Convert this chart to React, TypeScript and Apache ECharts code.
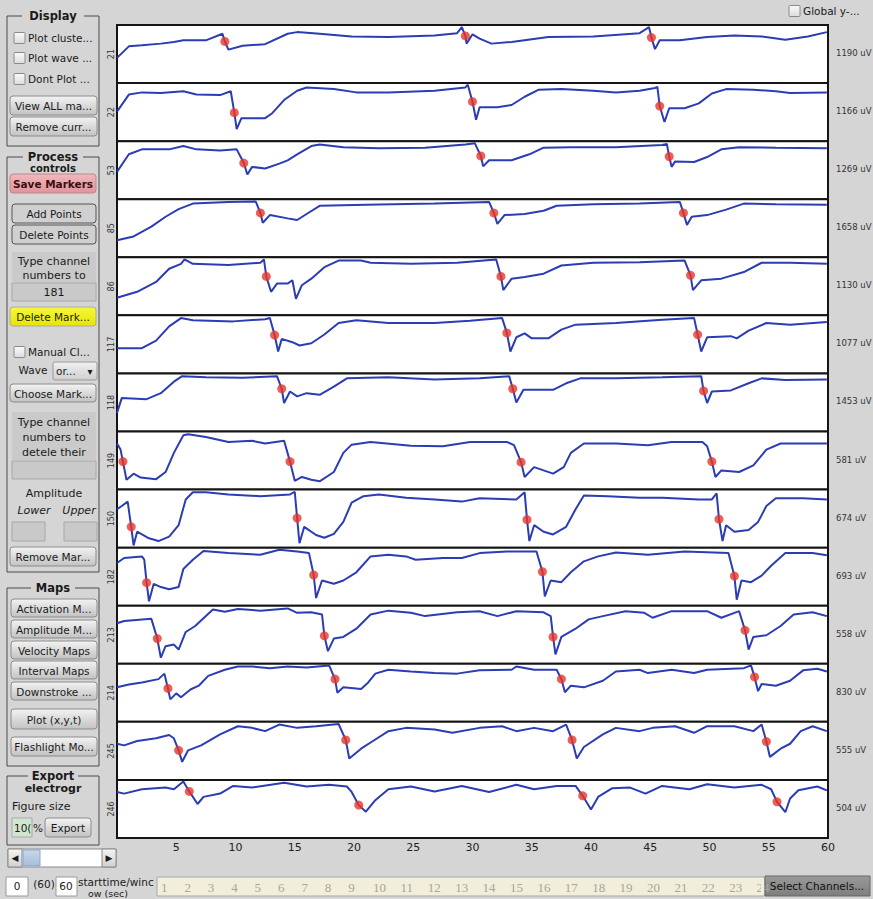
import React, { useEffect, useRef } from "react";
import * as echarts from "echarts";

// ---------- data ----------
const channels = ["21", "22", "53", "85", "86", "117", "118", "149", "150", "182", "213", "214", "245", "246"];
const amplitudes = ["1190 uV", "1166 uV", "1269 uV", "1658 uV", "1130 uV", "1077 uV", "1453 uV", "581 uV", "674 uV", "693 uV", "558 uV", "830 uV", "555 uV", "504 uV"];
const timeTicks = [5, 10, 15, 20, 25, 30, 35, 40, 45, 50, 55, 60];

const trace21 = [[0.0,43],[1.0,64],[2.1,66],[3.7,69],[4.8,72],[5.6,75],[7.5,75],[8.9,87],[9.1,73],[9.4,58],[10.6,65],[12.5,68],[14.4,87],[15.2,90],[17.1,87],[19.8,82],[22.9,81],[26.8,84],[28.7,88],[29.1,99],[29.4,83],[29.5,69],[30.0,86],[30.6,78],[31.6,69],[33.3,72],[36.4,81],[40.2,82],[44.1,88],[44.9,99],[45.1,80],[45.4,59],[45.8,75],[47.5,75],[49.8,81],[52.1,84],[54.4,82],[56.4,76],[58.3,82],[59.9,90]];
const markers21 = [[9.1,73],[29.4,83],[45.1,80]];

const trace22 = [[0.0,51],[1.0,82],[2.1,86],[3.7,85],[5.6,88],[6.7,82],[8.7,81],[9.6,88],[9.9,49],[10.1,19],[10.5,39],[12.5,39],[13.1,48],[14.1,72],[15.2,89],[16.0,95],[18.3,92],[20.2,86],[22.9,86],[26.8,89],[29.4,95],[29.6,100],[30.0,69],[30.3,36],[30.6,59],[32.1,59],[33.3,63],[34.4,78],[35.6,91],[37.5,92],[40.2,89],[42.1,86],[44.1,89],[45.4,94],[45.6,96],[45.8,61],[46.2,32],[46.6,57],[47.9,57],[49.1,66],[50.2,84],[51.4,92],[53.7,91],[55.6,88],[56.8,85],[59.9,86]];
const markers22 = [[9.9,49],[30.0,69],[45.8,61]];

const trace53 = [[0.0,47],[1.0,79],[2.1,88],[4.4,88],[5.6,94],[6.7,88],[8.7,86],[10.1,88],[10.7,63],[11.0,42],[11.4,56],[12.5,53],[13.7,62],[14.4,68],[15.2,79],[16.4,94],[17.1,97],[19.1,92],[22.1,90],[26.0,91],[29.4,97],[30.2,99],[30.7,76],[30.9,57],[31.4,68],[33.3,68],[34.8,79],[36.0,91],[38.3,92],[42.1,92],[46.0,96],[46.4,98],[46.6,75],[46.8,56],[47.1,66],[48.7,65],[49.8,74],[51.0,88],[52.5,92],[55.6,91],[59.9,90]];
const markers53 = [[10.7,63],[30.7,76],[46.6,75]];

const trace85 = [[0.0,28],[1.4,35],[2.9,53],[4.1,71],[5.2,85],[6.4,95],[9.4,98],[11.7,99],[12.1,78],[12.3,60],[12.9,74],[14.4,68],[15.2,65],[16.0,76],[17.1,91],[21.0,93],[26.8,95],[31.4,98],[31.8,78],[32.1,58],[32.7,74],[34.4,76],[36.0,82],[37.1,91],[40.2,94],[44.1,95],[47.5,98],[47.8,78],[48.1,56],[48.5,71],[49.8,74],[51.4,84],[52.9,95],[55.6,94],[59.9,93]];
const markers85 = [[12.1,78],[31.8,78],[47.8,78]];

const trace86 = [[0.0,29],[1.7,40],[3.3,58],[4.4,82],[5.4,91],[5.7,99],[6.4,91],[9.4,89],[12.1,93],[12.4,99],[12.6,68],[13.0,40],[13.5,55],[14.4,55],[14.8,61],[15.1,27],[15.6,52],[16.4,64],[17.5,85],[18.7,97],[20.6,97],[21.4,93],[24.8,91],[28.7,93],[32.0,99],[32.4,68],[32.6,43],[33.3,64],[34.4,67],[36.0,73],[37.5,88],[40.2,93],[44.1,94],[47.9,97],[48.4,70],[48.6,43],[49.3,61],[51.0,64],[52.9,76],[54.4,93],[56.8,93],[59.9,91]];
const markers86 = [[12.6,68],[32.4,68],[48.4,70]];

const trace117 = [[0.0,43],[2.1,43],[3.3,57],[4.4,83],[5.4,98],[6.4,94],[9.8,92],[12.5,96],[12.9,98],[13.3,67],[13.6,37],[13.9,60],[14.8,54],[15.4,48],[16.4,52],[17.5,68],[18.7,89],[20.2,94],[22.9,89],[26.8,89],[29.8,93],[32.5,98],[32.9,71],[33.2,37],[33.7,63],[34.4,70],[35.0,61],[36.4,61],[37.5,77],[38.7,86],[42.1,89],[46.0,95],[48.7,98],[49.0,68],[49.3,37],[49.8,63],[51.8,65],[52.3,61],[53.3,75],[54.8,89],[56.8,86],[59.9,91]];
const markers117 = [[13.3,67],[32.9,71],[49.0,68]];

const trace118 = [[0.0,31],[0.4,58],[2.5,56],[3.7,67],[4.8,88],[5.5,98],[7.5,96],[10.6,95],[13.5,98],[13.9,75],[14.1,49],[14.6,70],[15.2,61],[16.0,67],[17.1,64],[18.3,79],[19.4,94],[22.9,96],[26.8,92],[30.6,94],[33.1,98],[33.4,75],[33.7,50],[34.3,73],[36.8,73],[37.9,85],[39.1,94],[42.1,94],[46.0,96],[49.3,98],[49.5,71],[49.8,49],[50.2,70],[51.8,72],[53.3,85],[54.4,94],[56.4,91],[59.9,92]];
const markers118 = [[13.9,75],[33.4,75],[49.5,71]];

const trace149 = [[0.0,81],[0.3,70],[0.5,48],[0.8,15],[1.4,26],[2.0,19],[3.3,16],[4.1,29],[4.8,64],[5.6,96],[6.0,98],[7.5,93],[9.4,84],[11.4,86],[12.5,81],[14.1,86],[14.6,48],[15.0,13],[15.6,20],[16.4,15],[17.1,12],[18.3,29],[19.1,64],[19.8,79],[21.4,84],[24.8,77],[27.5,76],[29.8,84],[32.9,84],[33.5,78],[34.1,47],[34.4,20],[35.2,38],[36.8,26],[37.7,38],[38.3,64],[39.4,81],[42.1,81],[44.8,78],[46.8,84],[49.4,84],[49.8,76],[50.2,48],[50.5,20],[51.0,32],[52.5,29],[53.7,41],[54.8,70],[56.0,81],[59.9,81]];
const markers149 = [[0.5,48],[14.6,48],[34.1,47],[50.2,48]];

const trace150 = [[0.0,67],[0.4,73],[0.9,81],[1.2,35],[1.4,1],[1.7,26],[2.7,14],[3.5,9],[4.4,17],[5.2,38],[5.8,85],[6.4,98],[7.5,98],[9.4,94],[12.1,91],[14.6,94],[15.0,99],[15.2,51],[15.4,5],[15.8,35],[16.8,20],[17.5,15],[18.3,22],[19.1,44],[19.8,79],[20.8,91],[22.1,94],[24.4,88],[26.8,85],[29.1,81],[30.6,87],[33.7,85],[34.4,98],[34.6,48],[34.8,9],[35.2,38],[36.0,26],[36.8,21],[37.9,35],[38.7,67],[39.4,92],[41.4,91],[44.1,88],[46.0,88],[49.1,85],[50.2,85],[50.6,96],[50.8,49],[51.1,9],[51.4,38],[52.1,26],[53.3,29],[54.1,44],[54.8,73],[55.6,87],[57.9,87],[59.9,85]];
const markers150 = [[1.2,35],[15.2,51],[34.6,48],[50.8,49]];

const trace182 = [[0.0,75],[0.6,84],[2.1,87],[2.3,81],[2.5,39],[2.7,5],[3.1,37],[3.7,31],[4.4,27],[5.2,31],[5.6,64],[6.4,81],[7.3,97],[9.4,93],[12.1,90],[13.7,99],[15.2,96],[16.2,93],[16.6,53],[16.8,11],[17.3,43],[18.3,37],[19.1,43],[20.2,58],[21.4,87],[22.9,90],[24.4,87],[25.2,81],[27.5,84],[29.1,84],[30.6,93],[32.9,96],[35.4,96],[35.9,59],[36.1,14],[36.6,43],[37.5,40],[38.3,58],[39.4,78],[40.6,87],[42.1,94],[44.8,90],[47.9,96],[51.6,93],[52.1,51],[52.3,8],[52.7,43],[53.5,40],[54.4,52],[55.2,70],[56.4,93],[58.7,93],[59.9,89]];
const markers182 = [[2.5,39],[16.6,53],[35.9,59],[52.1,51]];

const trace213 = [[0.0,71],[0.6,75],[2.9,79],[3.4,43],[3.7,8],[4.1,29],[4.8,32],[5.2,23],[5.8,55],[6.6,66],[7.5,84],[8.1,96],[9.1,92],[10.2,97],[12.1,94],[14.4,98],[15.2,90],[16.4,91],[17.3,87],[17.5,48],[17.8,20],[18.3,43],[19.1,46],[20.2,61],[21.4,87],[22.9,94],[24.8,90],[26.0,84],[28.7,91],[30.6,93],[32.1,84],[33.7,93],[36.0,91],[36.6,84],[36.8,46],[37.0,14],[37.5,46],[38.7,61],[39.8,78],[41.0,84],[42.9,93],[44.5,90],[45.2,81],[46.8,93],[49.8,93],[51.0,81],[52.5,93],[53.0,58],[53.3,23],[53.7,46],[54.8,49],[56.0,66],[57.1,87],[58.7,91],[59.9,84]];
const markers213 = [[3.4,43],[17.5,48],[36.8,46],[53.0,58]];

const trace214 = [[0.0,60],[1.0,65],[2.1,69],[3.5,75],[4.0,85],[4.3,58],[4.5,38],[5.0,49],[5.4,42],[6.2,56],[6.9,63],[7.7,81],[9.1,92],[10.2,98],[11.4,98],[12.9,95],[14.4,98],[16.0,96],[17.9,100],[18.4,75],[18.6,50],[19.1,60],[20.6,57],[21.2,69],[21.8,85],[22.9,92],[24.8,89],[26.8,86],[28.7,85],[30.6,91],[33.3,92],[33.7,98],[35.2,92],[37.1,92],[37.5,75],[37.8,51],[38.3,63],[39.4,60],[41.0,72],[42.1,89],[44.1,92],[44.8,86],[46.8,92],[48.7,86],[49.8,92],[52.9,95],[53.5,100],[53.8,79],[54.1,53],[54.4,66],[55.6,63],[56.8,72],[57.9,91],[59.1,94],[59.9,89]];
const markers214 = [[4.3,58],[18.4,75],[37.5,75],[53.8,79]];

const trace245 = [[0.0,63],[0.6,60],[1.7,68],[3.3,73],[4.4,79],[4.8,73],[5.2,51],[5.5,30],[6.0,51],[7.1,60],[8.7,80],[10.2,95],[11.4,92],[12.5,86],[13.7,98],[15.2,92],[16.8,95],[18.7,99],[19.3,70],[19.6,36],[20.6,54],[21.6,68],[22.9,86],[24.4,92],[26.8,89],[28.3,83],[30.6,92],[32.5,95],[33.7,86],[35.2,92],[36.8,86],[37.9,98],[38.4,70],[38.8,36],[39.4,57],[41.0,80],[42.1,92],[44.1,86],[45.2,92],[47.1,95],[48.7,83],[49.8,95],[52.1,95],[53.7,86],[54.4,98],[54.8,67],[55.1,39],[56.0,54],[56.8,63],[57.7,86],[58.7,95],[59.9,86]];
const markers245 = [[5.2,51],[19.3,70],[38.4,70],[54.8,67]];

const trace246 = [[0.0,81],[0.6,78],[2.1,86],[4.1,89],[4.8,86],[5.6,100],[6.1,82],[6.8,59],[7.3,72],[8.7,78],[9.8,92],[11.4,89],[14.1,98],[16.0,91],[17.9,94],[19.4,91],[19.8,81],[20.4,57],[21.0,45],[21.8,66],[22.9,86],[24.8,91],[26.8,82],[29.1,92],[31.4,81],[33.7,94],[35.2,86],[37.1,92],[38.7,92],[39.3,74],[40.0,49],[40.6,72],[41.8,88],[43.3,89],[44.6,78],[46.0,92],[48.3,86],[49.8,95],[52.1,89],[54.4,94],[55.2,86],[55.7,63],[56.4,44],[56.8,69],[57.5,84],[59.1,91],[59.9,84]];
const markers246 = [[6.1,82],[20.4,57],[39.3,74],[55.7,63]];

const traces = [trace21, trace22, trace53, trace85, trace86, trace117, trace118, trace149, trace150, trace182, trace213, trace214, trace245, trace246];
const markers = [markers21, markers22, markers53, markers85, markers86, markers117, markers118, markers149, markers150, markers182, markers213, markers214, markers245, markers246];

const pageNumbers = Array.from({ length: 24 }, (_, i) => String(i + 1));

// ---------- layout ----------
const W = 873;
const H = 899;
const X0 = 117;
const PW = 711;
const TOP0 = 25;
const PH = 58.07;
const BG = "#d5d5d5";
const FONT = '"DejaVu Sans", sans-serif';

function txt(x: number, y: number, text: string, o: any = {}) {
  const size = o.size ?? 10.5;
  const weight = o.weight ?? "normal";
  const fstyle = o.style ?? "normal";
  return {
    type: "text",
    x,
    y,
    silent: true,
    z: o.z ?? 10,
    style: {
      text,
      fill: o.color ?? "#1a1a1a",
      font: `${fstyle} ${weight} ${size}px ${o.family ?? FONT}`,
      textAlign: o.align ?? "center",
      textVerticalAlign: "middle",
    },
  };
}

function rect(x1: number, y1: number, x2: number, y2: number, fill: any, stroke: string | null, r = 0, lw = 1, z = 5) {
  return {
    type: "rect",
    silent: true,
    z,
    shape: { x: x1, y: y1, width: x2 - x1, height: y2 - y1, r },
    style: { fill, stroke: stroke ?? "none", lineWidth: lw },
  };
}

function grad(top: string, bottom: string) {
  return new echarts.graphic.LinearGradient(0, 0, 0, 1, [
    { offset: 0, color: top },
    { offset: 1, color: bottom },
  ]);
}

function btn(x1: number, y1: number, x2: number, y2: number, label: string, o: any = {}) {
  return [
    rect(x1, y1, x2, y2, o.fill ?? grad("#f3f3f3", "#c2c2c2"), o.stroke ?? "#8c8c8c", 3, 1, 6),
    txt((x1 + x2) / 2, (y1 + y2) / 2 + 0.5, label, { weight: o.weight, color: o.color, size: o.size, z: 7 }),
  ];
}

function groupBox(x1: number, y1: number, x2: number, y2: number, title: string, tw: number) {
  const cx = (x1 + x2) / 2;
  return [
    rect(x1, y1, x2, y2, "none", "#4a4a4a", 0, 1, 3),
    rect(cx - tw / 2, y1 - 6, cx + tw / 2, y1 + 6, BG, null, 0, 1, 4),
    txt(cx, y1, title, { weight: "bold", size: 11.5, z: 6 }),
  ];
}

function checkbox(x: number, y: number, label: string) {
  return [
    rect(x, y - 5.5, x + 11, y + 5.5, grad("#fafafa", "#dcdcdc"), "#8a8a8a", 1, 1, 6),
    txt(x + 14, y, label, { align: "left", z: 7 }),
  ];
}

function inputBox(x1: number, y1: number, x2: number, y2: number, fill = "#c9c9c9") {
  return rect(x1, y1, x2, y2, fill, "#a8a8a8", 0, 1, 6);
}

function buildGraphic() {
  const g: any[] = [];
  // Display group
  g.push(...groupBox(7, 16, 99, 146, "Display", 62));
  g.push(...checkbox(14, 38, "Plot cluste..."));
  g.push(...checkbox(14, 58, "Plot wave ..."));
  g.push(...checkbox(14, 79, "Dont Plot ..."));
  g.push(...btn(10, 96, 97, 115, "View ALL ma..."));
  g.push(...btn(10, 117, 97, 136, "Remove curr..."));

  // Process controls group
  g.push(...groupBox(7, 157, 99, 572, "Process", 60));
  g.push(txt(53, 168, "controls", { weight: "bold", size: 10, z: 4 }));
  g.push(...btn(10, 174, 96, 193, "Save Markers", { fill: grad("#f0b8bc", "#e0949a"), stroke: "#b88", weight: "bold", color: "#3a1010" }));
  g.push(...btn(12, 204, 96, 223, "Add Points", { fill: "#d0d0d0", stroke: "#555" }));
  g.push(...btn(12, 225, 96, 244, "Delete Points", { fill: "#d0d0d0", stroke: "#555" }));
  g.push(rect(12, 252, 96, 282, "#cacaca", null, 0, 1, 5));
  g.push(txt(54, 261, "Type channel", { size: 11 }));
  g.push(txt(54, 275, "numbers to", { size: 11 }));
  g.push(inputBox(12, 283, 96, 301));
  g.push(txt(54, 292, "181", { size: 11, z: 8 }));
  g.push(...btn(10, 307, 96, 326, "Delete Mark...", { fill: grad("#f6f640", "#e6e600"), stroke: "#aaa" }));
  g.push(...checkbox(14, 352, "Manual Cl..."));
  g.push(txt(33, 370, "Wave", { size: 10.5 }));
  g.push(rect(53, 362, 97, 380, grad("#f0f0f0", "#cfcfcf"), "#999", 2, 1, 6));
  g.push(txt(56, 371, "or...", { align: "left", z: 7 }));
  g.push(txt(90, 371, "▾", { size: 10, z: 7 }));
  g.push(...btn(10, 384, 96, 402, "Choose Mark..."));
  g.push(rect(12, 412, 96, 460, "#cacaca", null, 0, 1, 5));
  g.push(txt(54, 422, "Type channel", { size: 11 }));
  g.push(txt(54, 437, "numbers to", { size: 11 }));
  g.push(txt(54, 452, "detele their", { size: 11 }));
  g.push(inputBox(12, 461, 96, 479));
  g.push(txt(54, 493, "Amplitude", { size: 11 }));
  g.push(txt(34, 510, "Lower", { size: 11, style: "italic" }));
  g.push(txt(79, 510, "Upper", { size: 11, style: "italic" }));
  g.push(inputBox(12, 522, 45, 541));
  g.push(inputBox(64, 522, 97, 541));
  g.push(...btn(10, 547, 96, 566, "Remove Mar..."));

  // Maps group
  g.push(...groupBox(7, 588, 99, 766, "Maps", 44));
  const maps = [
    ["Activation M...", 599, 617],
    ["Amplitude M...", 620, 638],
    ["Velocity Maps", 641, 659],
    ["Interval Maps", 661, 679],
    ["Downstroke ...", 682, 700],
    ["Plot (x,y,t)", 709, 729],
    ["Flashlight Mo...", 737, 756],
  ] as const;
  maps.forEach(([l, a, b]) => g.push(...btn(11, a, 97, b, l)));

  // Export group
  g.push(...groupBox(7, 776, 99, 845, "Export", 50));
  g.push(txt(53, 788, "electrogr", { weight: "bold", size: 11, z: 4 }));
  g.push(rect(10, 794, 96, 800, BG, null, 0, 1, 5));
  g.push(txt(12, 806, "Figure size", { align: "left", size: 11 }));
  g.push(inputBox(12, 818, 32, 837, "#cfe6cf"));
  g.push(txt(14, 828, "10(", { align: "left", size: 10.5, z: 8 }));
  g.push(txt(38, 828, "%", { size: 10.5 }));
  g.push(...btn(45, 818, 91, 837, "Export"));

  // scrollbar
  g.push(rect(8, 849, 116, 867, "#ffffff", "#8a8a8a", 0, 1, 5));
  g.push(rect(8, 849, 22, 867, grad("#f4f4f4", "#d0d0d0"), "#8a8a8a", 0, 1, 6));
  g.push(txt(15, 858, "◀", { size: 9, z: 7 }));
  g.push(rect(23, 850, 40, 866, grad("#c9d8ea", "#a7bcd8"), "#8fa6c6", 0, 1, 6));
  g.push(rect(102, 849, 116, 867, grad("#f4f4f4", "#d0d0d0"), "#8a8a8a", 0, 1, 6));
  g.push(txt(109, 858, "▶", { size: 9, z: 7 }));

  // bottom row
  g.push(rect(6, 877, 28, 896, "#ffffff", "#9a9a9a", 0, 1, 5));
  g.push(txt(17, 886, "0", { size: 10.5 }));
  g.push(txt(44, 884, "(60)", { size: 10.5 }));
  g.push(rect(56, 877, 77, 896, "#ffffff", "#9a9a9a", 0, 1, 5));
  g.push(txt(66, 886, "60", { size: 10.5 }));
  g.push(txt(78, 882, "starttime/winc", { align: "left", size: 10.5 }));
  g.push(txt(88, 893, "ow (sec)", { align: "left", size: 9.5 }));
  g.push(rect(157, 877, 764, 896, "#f1eedc", "#a8a8a8", 0, 1, 5));
  pageNumbers.forEach((n, i) => {
    const x = i < 9 ? 161 + i * 23.4 : 373 + (i - 9) * 27.4;
    g.push(txt(x, 887, n, { align: "left", size: 13, color: "#a9a699", family: '"Liberation Serif", serif', z: 7 }));
  });
  g.push(rect(761, 878, 764, 895, "#f1eedc", null, 0, 1, 8));
  g.push(rect(765, 876, 870, 896, grad("#9a9a9a", "#7e7e7e"), "#666", 0, 1, 6));
  g.push(txt(817, 886, "Select Channels...", { size: 10.5, color: "#111", z: 7 }));

  // top right checkbox
  g.push(...checkbox(789, 11, "Global y-..."));

  // amplitude labels
  amplitudes.forEach((a, i) => {
    g.push(txt(836, TOP0 + PH * i + PH / 2 - 1, a, { align: "left", size: 8.5, color: "#333" }));
  });
  return g;
}

export default function App() {
  const ref = useRef<HTMLDivElement>(null);
  useEffect(() => {
    if (!ref.current) return;
    const chart = echarts.init(ref.current, undefined, { renderer: "svg" });
    const n = channels.length;
    const grids: any[] = [];
    const xAxes: any[] = [];
    const yAxes: any[] = [];
    const series: any[] = [];
    for (let i = 0; i < n; i++) {
      grids.push({
        left: X0,
        top: TOP0 + PH * i,
        width: PW,
        height: PH,
        show: true,
        backgroundColor: "#ffffff",
        borderColor: "#151515",
        borderWidth: 2,
      });
      xAxes.push({
        type: "value",
        gridIndex: i,
        min: 0,
        max: 60,
        interval: 5,
        axisLine: { show: false },
        axisTick: { show: false },
        splitLine: { show: false },
        axisLabel: {
          show: i === n - 1,
          showMinLabel: false,
          showMaxLabel: true,
          margin: 4,
          fontSize: 11,
          color: "#222",
          fontFamily: FONT,
        },
      });
      yAxes.push({
        type: "value",
        gridIndex: i,
        min: -3,
        max: 103,
        axisLine: { show: false },
        axisTick: { show: false },
        axisLabel: { show: false },
        splitLine: { show: false },
        name: channels[i],
        nameLocation: "middle",
        nameRotate: 90,
        nameGap: 2,
        nameTextStyle: { fontSize: 8, color: "#333", fontFamily: FONT },
      });
      series.push({
        type: "line",
        xAxisIndex: i,
        yAxisIndex: i,
        data: traces[i],
        showSymbol: false,
        symbol: "none",
        lineStyle: { color: "#2b3cb4", width: 2 },
        z: 3,
      });
      series.push({
        type: "scatter",
        xAxisIndex: i,
        yAxisIndex: i,
        data: markers[i],
        symbol: "circle",
        symbolSize: 9,
        itemStyle: { color: "#e8362a" },
        z: 4,
      });
    }
    chart.setOption({
      animation: false,
      backgroundColor: BG,
      grid: grids,
      xAxis: xAxes,
      yAxis: yAxes,
      series,
      graphic: buildGraphic(),
    });
    void timeTicks;
    return () => chart.dispose();
  }, []);
  return (
    <div
      ref={ref}
      style={{ position: "absolute", left: 0, top: 0, width: W, height: H }}
    />
  );
}
